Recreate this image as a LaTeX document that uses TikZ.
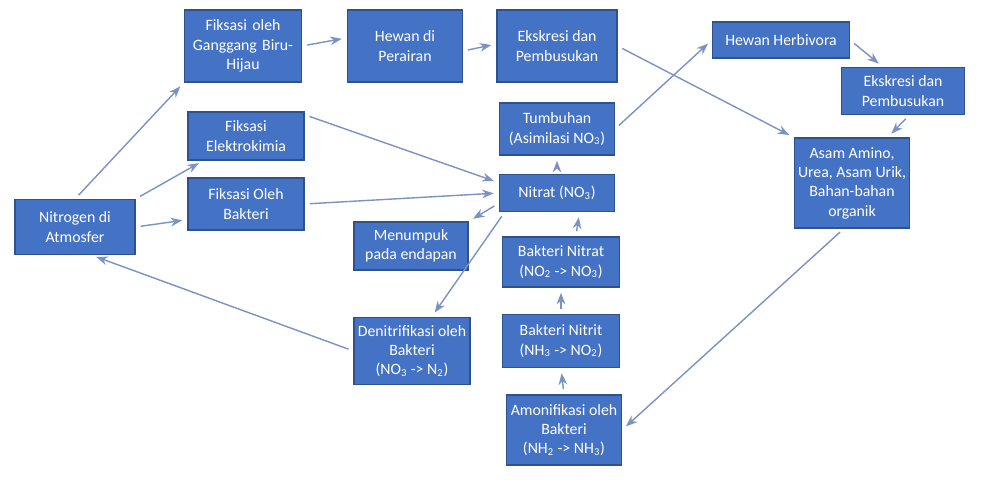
\documentclass[tikz,border=0pt]{standalone}
\usepackage{fontspec}
\setmainfont{Carlito}
\usetikzlibrary{arrows.meta}
\definecolor{boxfill}{HTML}{4472C4}
\definecolor{boxline}{HTML}{2F528F}
\definecolor{arrowc}{HTML}{7A93C2}
\begin{document}
\begin{tikzpicture}[>=Stealth,
    box/.style={rectangle,fill=boxfill,draw=boxline,line width=0.6pt,text=white,
        font=\fontsize{9}{11}\selectfont,align=center,inner sep=2pt},
    arr/.style={->,arrowc,line width=0.8pt,shorten >=3pt,shorten <=3pt}]

    \useasboundingbox (0,0) rectangle (19.66,-9.88);

    % kotak-kotak
    \node[box,minimum width=2.4cm,minimum height=1.1cm] (atm) at (1.5,-4.54) {Nitrogen di\\Atmosfer};
    \node[box,minimum width=2.34cm,minimum height=1.44cm,text width=2.1cm] (gang) at (4.86,-0.92) {Fiksasi oleh Ganggang Biru-\\Hijau};
    \node[box,minimum width=2.32cm,minimum height=0.96cm] (elek) at (4.92,-2.72) {Fiksasi\\Elektrokimia};
    \node[box,minimum width=2.32cm,minimum height=1.04cm] (bakt) at (4.92,-4.08) {Fiksasi Oleh\\Bakteri};
    \node[box,minimum width=2.3cm,minimum height=1.44cm] (hewan) at (8.1,-0.92) {Hewan di\\Perairan};
    \node[box,minimum width=2.4cm,minimum height=1.44cm] (eks) at (11.14,-0.92) {Ekskresi dan\\Pembusukan};
    \node[box,minimum width=2.3cm,minimum height=1.04cm] (tumb) at (11.14,-2.58) {Tumbuhan\\(Asimilasi NO\textsubscript{3})};
    \node[box,minimum width=2.3cm,minimum height=0.74cm] (nitrat) at (11.14,-3.86) {Nitrat (NO\textsubscript{3})};
    \node[box,minimum width=2.28cm,minimum height=0.96cm] (numpuk) at (8.22,-4.92) {Menumpuk\\pada endapan};
    \node[box,minimum width=2.34cm,minimum height=1.0cm] (bnitrat) at (11.22,-5.24) {Bakteri Nitrat\\(NO\textsubscript{2} -> NO\textsubscript{3})};
    \node[box,minimum width=2.34cm,minimum height=1.06cm] (bnitrit) at (11.22,-6.82) {Bakteri Nitrit\\(NH\textsubscript{3} -> NO\textsubscript{2})};
    \node[box,minimum width=2.3cm,minimum height=1.4cm] (amon) at (11.28,-8.6) {Amonifikasi oleh\\Bakteri\\(NH\textsubscript{2} -> NH\textsubscript{3})};
    \node[box,minimum width=2.32cm,minimum height=1.34cm] (denit) at (8.24,-7.02) {Denitrifikasi oleh\\Bakteri\\(NO\textsubscript{3} -> N\textsubscript{2})};
    \node[box,minimum width=2.74cm,minimum height=0.72cm] (herb) at (15.62,-0.8) {Hewan Herbivora};
    \node[box,minimum width=2.46cm,minimum height=0.94cm] (eksb) at (18.06,-1.82) {Ekskresi dan\\Pembusukan};
    \node[box,minimum width=2.3cm,minimum height=1.8cm] (asam) at (17.04,-3.66) {Asam Amino,\\Urea, Asam Urik,\\Bahan-bahan\\organik};

    % panah
    \draw[arr] (atm.north) -- (gang.south west);
    \draw[arr] (atm.north east) -- (elek.-150);
    \draw[arr] (atm.east) -- (bakt.-165);
    \draw[arr] (gang.east) -- (hewan.172);
    \draw[arr] (hewan.-5) -- (eks.178);
    \draw[arr] (eks.east) -- (asam.north west);
    \draw[arr] (elek.20) -- (nitrat.170);
    \draw[arr] (bakt.east) -- (nitrat.west);
    \draw[arr] (nitrat.north) -- (tumb.south);
    \draw[arr] (tumb.east) -- (herb.west);
    \draw[arr] (herb.east) -- (eksb.130);
    \draw[arr] (eksb.-75) -- (asam.52);
    \draw[arr] (asam.-100) -- (amon.east);
    \draw[arr] (nitrat.-170) -- (numpuk.north east);
    \draw[arr] (nitrat.-160) -- (denit.60);
    \draw[arr] (bnitrat.60) -- (nitrat.-40);
    \draw[arr] (bnitrit.north) -- (bnitrat.south);
    \draw[arr] (amon.north) -- (bnitrit.south);
    \draw[arr] (denit.west) -- (atm.-60);

\end{tikzpicture}
\end{document}
